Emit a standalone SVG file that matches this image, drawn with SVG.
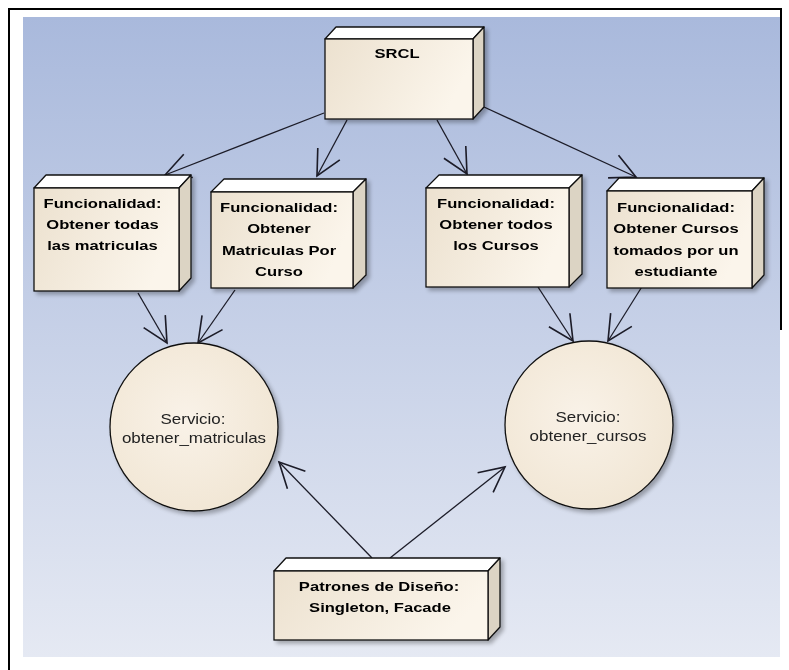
<svg xmlns="http://www.w3.org/2000/svg" width="789" height="670" viewBox="0 0 789 670">
<style>
.top{fill:#ffffff;stroke:#111;stroke-width:1.3;stroke-linejoin:round}
.side{fill:#dcd4c4;stroke:#111;stroke-width:1.3;stroke-linejoin:round}
.front{fill:url(#gFront);stroke:#111;stroke-width:1.3}
.circ{fill:url(#gCirc);stroke:#111;stroke-width:1.3}
.b{font-family:"Liberation Sans",Arial,sans-serif;font-weight:bold;font-size:13.6px;fill:#000;text-anchor:middle}
.r{font-family:"Liberation Sans",Arial,sans-serif;font-size:15px;fill:#222;text-anchor:middle}
.conn line{stroke:#1c1c28;stroke-width:1.3;marker-end:url(#arr)}
</style>
<defs>
<linearGradient id="gBg" x1="0" y1="0" x2="0" y2="1">
<stop offset="0" stop-color="#a9b9dc"/>
<stop offset="1" stop-color="#e5e9f3"/>
</linearGradient>
<linearGradient id="gFront" x1="0" y1="0" x2="1" y2="0.3">
<stop offset="0" stop-color="#ece1cf"/>
<stop offset="1" stop-color="#fbf5eb"/>
</linearGradient>
<radialGradient id="gCirc" cx="0.45" cy="0.45" r="0.6">
<stop offset="0" stop-color="#f9f2e8"/>
<stop offset="1" stop-color="#f1e6d4"/>
</radialGradient>
<filter id="sh" x="-10%" y="-10%" width="130%" height="130%">
<feGaussianBlur in="SourceAlpha" stdDeviation="2"/>
<feOffset dx="3" dy="3" result="o"/>
<feComponentTransfer><feFuncA type="linear" slope="0.3"/></feComponentTransfer>
<feMerge><feMergeNode/><feMergeNode in="SourceGraphic"/></feMerge>
</filter>
<marker id="arr" markerUnits="userSpaceOnUse" markerWidth="30" markerHeight="30" viewBox="-22 -12 24 24" refX="0" refY="0" orient="auto">
<path d="M-20,-10 L0,0 L-20,10" fill="none" stroke="#1c1c28" stroke-width="1.3"/>
</marker>
</defs>

<!-- frame and background -->
<path d="M9,670 L9,9 L781,9 L781,330" fill="none" stroke="#000" stroke-width="2"/>
<rect x="23" y="17" width="757" height="640" fill="url(#gBg)"/>

<g class="conn" id="connectors">
<line x1="324" y1="113" x2="165" y2="175"/>
<line x1="347" y1="120" x2="317" y2="176"/>
<line x1="437" y1="120" x2="467" y2="174"/>
<line x1="484" y1="107" x2="636" y2="177"/>
<line x1="138" y1="293" x2="167" y2="343"/>
<line x1="235" y1="290" x2="198" y2="343"/>
<line x1="538" y1="287" x2="573" y2="341"/>
<line x1="643" y1="285" x2="608" y2="341"/>
<line x1="372" y1="558" x2="279" y2="462"/>
<line x1="390" y1="558" x2="505" y2="467"/>
</g>

<g id="srcl" filter="url(#sh)">
<path class="top" d="M325,39 L336,27 L484,27 L473,39 Z"/>
<path class="side" d="M473,39 L484,27 L484,107 L473,119 Z"/>
<rect class="front" x="325" y="39" width="148" height="80"/>
<text class="b" transform="translate(397,58) scale(1.22,1)">SRCL</text>
</g>

<g id="func1" filter="url(#sh)">
<path class="top" d="M34,188 L46,175 L191,175 L179,188 Z"/>
<path class="side" d="M179,188 L191,175 L191,278 L179,291 Z"/>
<rect class="front" x="34" y="188" width="145" height="103"/>
<text class="b" transform="translate(102.5,208) scale(1.22,1)">Funcionalidad:</text>
<text class="b" transform="translate(102.5,229) scale(1.22,1)">Obtener todas</text>
<text class="b" transform="translate(102.5,250) scale(1.22,1)">las matriculas</text>
</g>

<g id="func2" filter="url(#sh)">
<path class="top" d="M211,192 L224,179 L366,179 L353,192 Z"/>
<path class="side" d="M353,192 L366,179 L366,275 L353,288 Z"/>
<rect class="front" x="211" y="192" width="142" height="96"/>
<text class="b" transform="translate(279,212) scale(1.22,1)">Funcionalidad:</text>
<text class="b" transform="translate(279,233) scale(1.22,1)">Obtener</text>
<text class="b" transform="translate(279,255) scale(1.22,1)">Matriculas Por</text>
<text class="b" transform="translate(279,276) scale(1.22,1)">Curso</text>
</g>

<g id="func3" filter="url(#sh)">
<path class="top" d="M426,188 L439,175 L582,175 L569,188 Z"/>
<path class="side" d="M569,188 L582,175 L582,274 L569,287 Z"/>
<rect class="front" x="426" y="188" width="143" height="99"/>
<text class="b" transform="translate(496,208) scale(1.22,1)">Funcionalidad:</text>
<text class="b" transform="translate(496,229) scale(1.22,1)">Obtener todos</text>
<text class="b" transform="translate(496,250) scale(1.22,1)">los Cursos</text>
</g>

<g id="func4" filter="url(#sh)">
<path class="top" d="M607,191 L619,178 L764,178 L752,191 Z"/>
<path class="side" d="M752,191 L764,178 L764,275 L752,288 Z"/>
<rect class="front" x="607" y="191" width="145" height="97"/>
<text class="b" transform="translate(676,212) scale(1.22,1)">Funcionalidad:</text>
<text class="b" transform="translate(676,233) scale(1.22,1)">Obtener Cursos</text>
<text class="b" transform="translate(676,255) scale(1.22,1)">tomados por un</text>
<text class="b" transform="translate(676,276) scale(1.22,1)">estudiante</text>
</g>

<g id="servicio_matriculas" filter="url(#sh)">
<circle class="circ" cx="194" cy="427" r="84"/>
<text class="r" transform="translate(193,424) scale(1.13,1)">Servicio:</text>
<text class="r" transform="translate(194,443) scale(1.13,1)">obtener_matriculas</text>
</g>

<g id="servicio_cursos" filter="url(#sh)">
<circle class="circ" cx="589" cy="425" r="84"/>
<text class="r" transform="translate(588,422) scale(1.13,1)">Servicio:</text>
<text class="r" transform="translate(588,441) scale(1.13,1)">obtener_cursos</text>
</g>

<g id="patrones" filter="url(#sh)">
<path class="top" d="M274,571 L286,558 L500,558 L488,571 Z"/>
<path class="side" d="M488,571 L500,558 L500,627 L488,640 Z"/>
<rect class="front" x="274" y="571" width="214" height="69"/>
<text class="b" transform="translate(379,591) scale(1.22,1)">Patrones de Diseño:</text>
<text class="b" transform="translate(380,612) scale(1.22,1)">Singleton, Facade</text>
</g>
</svg>
